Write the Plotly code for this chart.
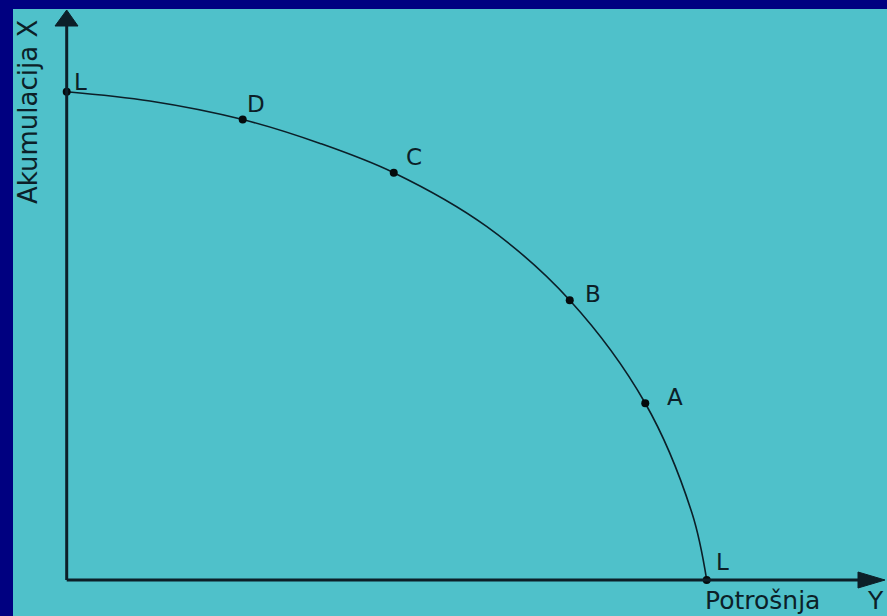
import plotly.graph_objects as go

# Data, units: arbitrary, origin at axes corner
point_labels = ["L", "D", "C", "B", "A", "L"]
point_x = [0.0, 2.75, 5.11, 7.86, 9.04, 10.0]
point_y = [10.0, 9.43, 8.34, 5.73, 3.62, 0.0]

# additional points
curve_x = [0.0, 1.30, 2.75, 3.96, 5.11, 6.56, 7.86, 9.04, 9.77, 10.0]
curve_y = [10.0, 9.81, 9.43, 8.94, 8.34, 7.24, 5.73, 3.62, 1.37, 0.0]

x_title = "Potrošnja"
x_letter = "Y"
y_title = "Akumulacija X"

W, H = 887, 616
ML, MT = 13, 9
PX_X = 64.0      # px per x unit
PX_Y = 48.83     # px per y unit
ORIGIN_PX = (66.7, 580.0)

x_range = [(ML - ORIGIN_PX[0]) / PX_X, (W - ORIGIN_PX[0]) / PX_X]
y_range = [(ORIGIN_PX[1] - H) / PX_Y, (ORIGIN_PX[1] - MT) / PX_Y]

def dx(px):
    return (px - ORIGIN_PX[0]) / PX_X

def dy(py):
    return (ORIGIN_PX[1] - py) / PX_Y

INK = "#0c1f28"
FONT = "DejaVu Sans"

fig = go.Figure()

fig.add_trace(go.Scatter(
    x=curve_x, y=curve_y, mode="lines",
    line=dict(color=INK, width=1.6, shape="spline", smoothing=1.0),
    hoverinfo="skip", showlegend=False))

fig.add_trace(go.Scatter(
    x=point_x, y=point_y, mode="markers",
    marker=dict(color="#050a0c", size=8, symbol="circle"),
    showlegend=False))

# point labels
label_offsets = [(14, 10), (13, 16), (20, 16), (23, 6), (30, 6), (16, 18)]
shapes = []
annotations = []
for lab, x, y, (ox, oy) in zip(point_labels, point_x, point_y, label_offsets):
    annotations.append(dict(
        x=x, y=y, text=lab, showarrow=False, xshift=ox, yshift=oy,
        font=dict(family=FONT, size=23, color=INK)))

# axes lines
shapes.append(dict(type="line", x0=0, y0=0, x1=0, y1=dy(24),
                   line=dict(color=INK, width=3)))
shapes.append(dict(type="line", x0=0, y0=0, x1=dx(862), y1=0,
                   line=dict(color=INK, width=3)))
# arrow heads
shapes.append(dict(type="path",
                   path=f"M {dx(55)} {dy(26)} L {dx(66.7)} {dy(10)} L {dx(78)} {dy(26)} Z",
                   fillcolor=INK, line=dict(color=INK, width=1)))
shapes.append(dict(type="path",
                   path=f"M {dx(858)} {dy(572)} L {dx(885)} {dy(580)} L {dx(858)} {dy(588)} Z",
                   fillcolor=INK, line=dict(color=INK, width=1)))

annotations.append(dict(x=dx(762), y=dy(616), yanchor="bottom", text=x_title,
                        showarrow=False, borderpad=0,
                        font=dict(family=FONT, size=25, color=INK)))
annotations.append(dict(x=dx(866), y=dy(616), yanchor="bottom", xanchor="left",
                        text=x_letter, showarrow=False, borderpad=0,
                        font=dict(family=FONT, size=25, color=INK)))
annotations.append(dict(x=dx(28), y=dy(112), text=y_title, showarrow=False,
                        textangle=-90, font=dict(family=FONT, size=26, color=INK)))

fig.update_layout(
    width=W, height=H,
    margin=dict(l=ML, r=0, t=MT, b=0),
    paper_bgcolor="#000080",
    plot_bgcolor="#4fc1ca",
    xaxis=dict(range=x_range, visible=False, fixedrange=True),
    yaxis=dict(range=y_range, visible=False, fixedrange=True),
    shapes=shapes,
    annotations=annotations,
    showlegend=False,
)

fig.write_html("out.html", config={"displayModeBar": False},
               post_script="document.body.style.margin='0';document.body.style.overflow='hidden';")
